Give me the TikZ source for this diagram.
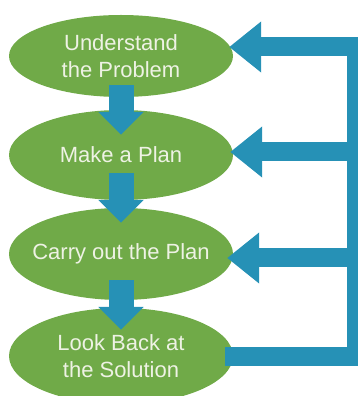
\documentclass[tikz,border=0pt]{standalone}
\usepackage{fontspec}
\setmainfont{Liberation Sans}
\usepackage{tikz}
\usetikzlibrary{shapes.geometric,arrows.meta}
\definecolor{stepgreen}{RGB}{112,170,72}
\definecolor{loopblue}{RGB}{38,145,182}
\definecolor{textcream}{RGB}{238,242,228}
\tikzset{
  stepnode/.style={ellipse,fill=stepgreen,text=textcream,inner xsep=-20pt,inner ysep=0pt,
    minimum width=224pt,align=center,font=\fontsize{22}{27}\selectfont},
  downarrow/.style={loopblue,line width=25pt,
    -{Triangle[width=44pt,length=23pt]}},
  backarrow/.style={loopblue,line width=19pt,line join=miter,
    -{Triangle[width=49pt,length=32pt]}}
}

\begin{document}
\begin{tikzpicture}[x=1pt,y=1pt]
    \useasboundingbox (0,0) rectangle (358,396);
    \node[stepnode,minimum height=82pt] at (121,340) (understand) {Understand\\the Problem};
    \node[stepnode,minimum height=90pt] at (121,241) (plan) {Make a Plan};
    \node[stepnode,minimum height=92pt] at (121,142) (carry) {Carry out the Plan};
    \node[stepnode,minimum height=96pt] at (121,40) (look) {Look Back at\\the Solution};
    % the loop on the right
    \coordinate (bar) at (356.5,39);
    \coordinate (plan in) at ([shift={(-3pt,3pt)}]plan.east);
    \coordinate (carry in) at ([shift={(-6pt,-4pt)}]carry.east);
    \draw[backarrow] ([shift={(-8pt,-1pt)}]look.east) -| (bar)
        |- ([shift={(-4pt,9pt)}]understand.east);
    \draw[backarrow] (plan in -| bar) -- (plan in);
    \draw[backarrow] (carry in -| bar) -- (carry in);
    % steps down
    \draw[downarrow] ([yshift=12pt]understand.south) -- ([yshift=-25pt]plan.north);
    \draw[downarrow] ([yshift=27pt]plan.south) -- ([yshift=-15pt]carry.north);
    \draw[downarrow] ([yshift=20pt]carry.south) -- ([yshift=-22pt]look.north);
\end{tikzpicture}
\end{document}
